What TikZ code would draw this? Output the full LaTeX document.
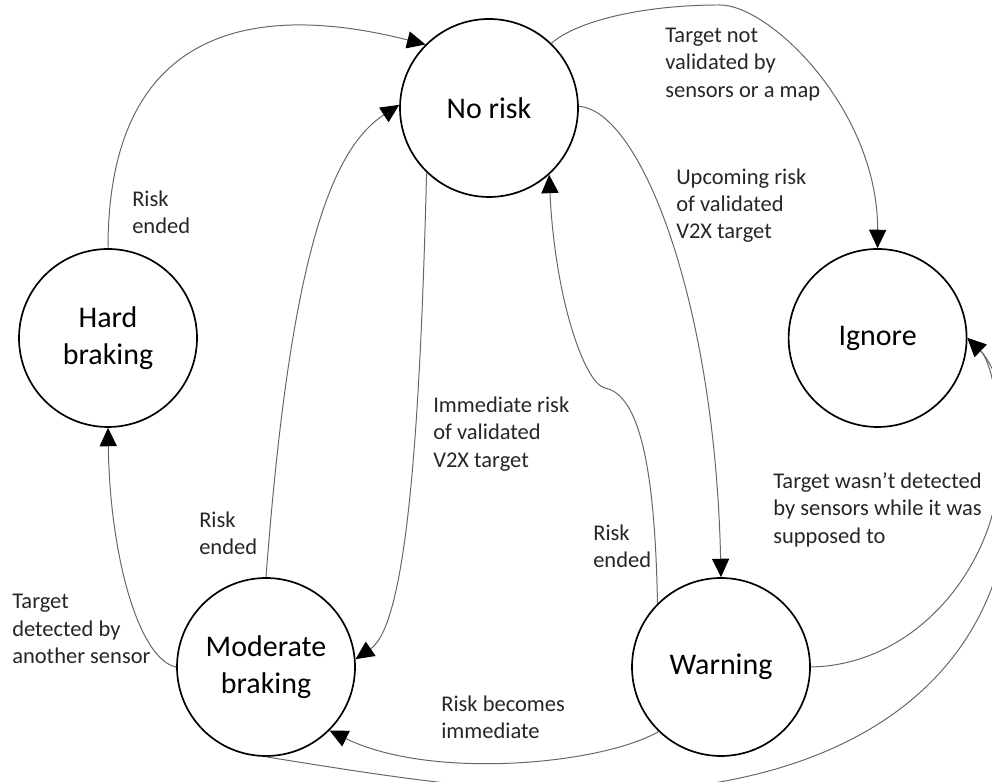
\documentclass[tikz,border=0pt]{standalone}
\usepackage{fontspec}
\setmainfont{Carlito}
\usetikzlibrary{arrows.meta}
\tikzset{
  statecircle/.style={draw=black, circle, line width=1.2pt, minimum size=4.45cm,
    inner sep=0pt, align=center, font=\fontsize{21.3}{26}\selectfont},
  trans/.style={-{Triangle[length=4.6mm, width=4.3mm, color=black]},
    draw=black!60, line width=0.7pt},
  cond/.style={anchor=west, align=left, inner sep=0pt, text=black!85,
    font=\fontsize{16}{19.5}\selectfont},
}

\begin{document}
\begin{tikzpicture}

  \useasboundingbox (0,0) rectangle (24.8,19.55);
  \clip (0,0) rectangle (24.8,19.55);

  \node[statecircle] (norisk)   at (12.225,16.85) {No risk};
  \node[statecircle] (hard)     at (2.7,11.1)     {Hard\\braking};
  \node[statecircle] (ignore)   at (21.94,11.1)   {Ignore};
  \node[statecircle] (moderate) at (6.65,2.875)   {Moderate\\braking};
  \node[statecircle] (warning)  at (18.025,2.875) {Warning};

  \draw[trans] (hard.north) .. controls (2.7,18.8) and (6.25,19.55) .. (norisk.135);
  \draw[trans] (moderate.north) .. controls (7.25,13.05) and (8.25,15.8) .. (norisk.178);
  \draw[trans] (norisk.226) .. controls (10.5,8.8) and (10.175,3.95) .. (moderate.5);
  \draw[trans] (norisk.1) .. controls (16,16.8) and (17.875,12.05) .. (warning.north);
  \draw[trans] (norisk.46) .. controls (14.375,19.0) and (16,19.425) .. (18,19.425)
    .. controls (19.25,19.425) and (21.95,16.8) .. (ignore.north);
  \draw[trans] (warning.135) .. controls (16.375,7.8) and (16,9.675) .. (15.125,9.85)
    .. controls (14.625,9.95) and (13.875,12.05) .. (norisk.-48);
  \draw[trans] (warning.226) .. controls (15,0.425) and (10.75,0.05) .. (moderate.-45);
  \draw[trans] (warning.east) .. controls (23,2.925) and (25,5.55) .. (25,8.05)
    .. controls (25,9.55) and (24.75,10.55) .. (ignore.east);
  \draw[trans] (moderate.south) .. controls (9.5,0.175) and (12,-0.25) .. (15,-0.25)
    .. controls (20.5,-0.25) and (25.3,2.05) .. (25.3,7.8)
    .. controls (25.3,9.55) and (24.75,10.55) .. (ignore.east);
  \draw[trans] (moderate.west) .. controls (3.5,3.05) and (2.75,5.55) .. (hard.south);

  \node[cond] (c1) at (3.3,14.25)    {Risk\\ended};
  \node[cond] (c2) at (4.975,6.225)  {Risk\\ended};
  \node[cond] (c3) at (10.825,8.7)   {Immediate risk\\of validated\\V2X target};
  \node[cond] (c4) at (16.9,14.41)   {Upcoming risk\\of validated\\V2X target};
  \node[cond] (c5) at (16.625,17.94) {Target not\\validated by\\sensors or a map};
  \node[cond] (c6) at (14.825,5.9)   {Risk\\ended};
  \node[cond] (c7) at (11.025,1.625) {Risk becomes\\immediate};
  \node[cond] (c8) at (19.325,6.81)  {Target wasn’t detected\\by sensors while it was\\supposed to};
  \node[cond] (c9) at (0.3,3.825)    {Target\\detected by\\another sensor};

\end{tikzpicture}
\end{document}
